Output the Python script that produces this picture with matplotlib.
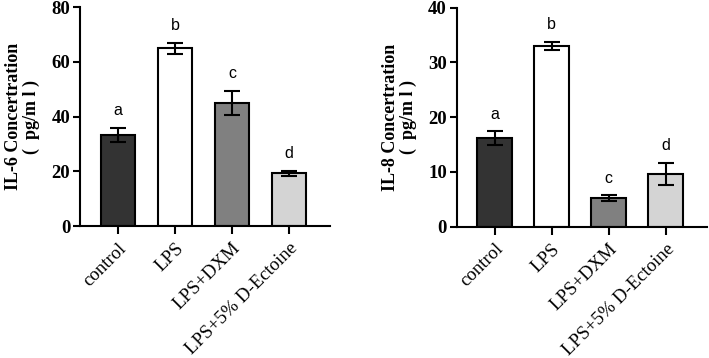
import matplotlib
matplotlib.use('Agg')
from matplotlib import pyplot as plt

groups = ['control', 'LPS', 'LPS+DXM', 'LPS+5% D-Ectoine']
il6_mean = [33.2, 65.0, 45.0, 19.3]
il6_err = [2.6, 2.0, 4.5, 0.9]
il8_mean = [16.2, 33.0, 5.2, 9.6]
il8_err = [1.2, 0.8, 0.5, 2.0]
letters = ['a', 'b', 'c', 'd']
colors = ['#333333', '#ffffff', '#808080', '#d4d4d4']

fig = plt.figure(figsize=(7.09, 3.58), dpi=100)
ax1 = fig.add_axes([0.1128, 0.3687, 0.3526, 0.6117])
ax2 = fig.add_axes([0.644, 0.3668, 0.3526, 0.6117])

def draw(ax, means, errs, ymax, step, ylab):
    x = list(range(len(groups)))
    ax.bar(x, means, width=0.61, color=colors, edgecolor='black', linewidth=1.5, zorder=2)
    ax.errorbar(x, means, yerr=errs, fmt='none', ecolor='black', elinewidth=1.5,
                capsize=6, capthick=1.5, zorder=3)
    for i in x:
        ax.annotate(letters[i], (i, means[i] + errs[i]), xytext=(0, 7), textcoords='offset points',
                    ha='center', va='bottom', fontsize=11.5, family='Liberation Sans')
    ax.set_xlim(-0.667, 3.72)
    ax.set_ylim(0, ymax)
    ax.set_yticks(range(0, ymax + 1, step))
    ax.set_xticks(x)
    ax.set_xticklabels(groups, rotation=45, ha='right', rotation_mode='anchor',
                       family='Liberation Serif', fontsize=13.5)
    for lab in ax.get_yticklabels():
        lab.set_family('Liberation Serif')
        lab.set_fontweight('bold')
        lab.set_fontsize(13.5)
    ax.spines['top'].set_visible(False)
    ax.spines['right'].set_visible(False)
    ax.spines['left'].set_linewidth(1.5)
    ax.spines['bottom'].set_linewidth(1.5)
    ax.tick_params(width=1.5, length=5, pad=2)
    ax.tick_params(axis='x', length=6, pad=4)
    ax.set_ylabel(ylab, family='Liberation Serif', fontweight='bold', fontsize=13,
                  linespacing=1.05, labelpad=8)

draw(ax1, il6_mean, il6_err, 80, 20, 'IL-6 Concertration\n(  pg/m l )')
draw(ax2, il8_mean, il8_err, 40, 10, 'IL-8 Concertration\n(  pg/m l )')

plt.savefig('out.png')
